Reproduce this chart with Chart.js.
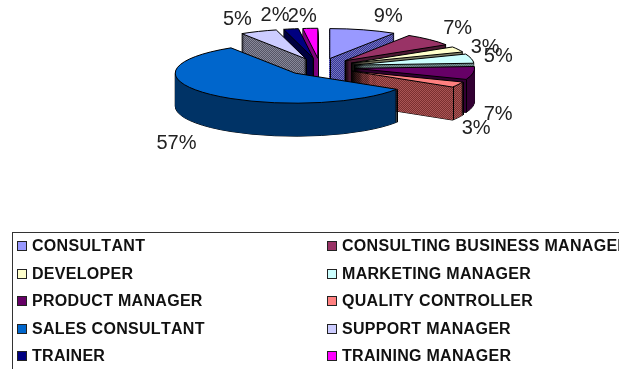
<!DOCTYPE html>
<html>
<head>
<meta charset="utf-8">
<script src="https://cdn.jsdelivr.net/npm/chart.js@4"></script>
<style>
  html, body { margin: 0; padding: 0; background: #fff; }
  #page { position: relative; width: 619px; height: 369px; overflow: hidden; }
  #page canvas { position: absolute; left: 0; top: 0; }
  #legend {
    position: absolute; left: 12px; top: 232px; width: 720px; height: 180px;
    border: 1px solid #333; box-sizing: border-box;
    font: bold 16px "Liberation Sans", Arial, sans-serif; color: #111;
    font-kerning: none;
  }
  .item { position: absolute; white-space: nowrap; line-height: 18px; }
  .item i {
    position: absolute; left: 0; top: 4px; width: 8px; height: 8px;
    border: 1px solid #222;
  }
  .item span { position: absolute; left: 15px; top: 0; letter-spacing: 0.3px; }
</style>
</head>
<body>
<div id="page">
  <canvas id="chart" width="619" height="369"></canvas>
  <div id="legend"></div>
</div>
<script>
const categories = ['CONSULTANT', 'CONSULTING BUSINESS MANAGER', 'DEVELOPER', 'MARKETING MANAGER',
  'PRODUCT MANAGER', 'QUALITY CONTROLLER', 'SALES CONSULTANT', 'SUPPORT MANAGER', 'TRAINER', 'TRAINING MANAGER'];
const shares = [9, 7, 3, 5, 7, 3, 57, 5, 2, 2];
const topColors = ['#9999FF', '#993366', '#FFFFCC', '#CCFFFF', '#660066', '#FF8080', '#0066CC', '#CCCCFF', '#000080', '#FF00FF'];
// two tones of the dithered side walls, same colour twice means flat
const sideA = ['#333399', '#4C1933', '#7F7F66', '#556F6F', '#330033', '#7A3030', '#003366', '#555566', '#000040', '#7F007F'];
const sideB = ['#7777BB', '#4C1933', '#7F7F66', '#778F8F', '#330033', '#AA5555', '#003366', '#888899', '#000040', '#7F007F'];

// look of the fake 3D pie
const CENTER_X = 320;
const CENTER_Y = 67;
const RADIUS = 120;
const SQUASH = 0.25;
const EXPLODE = 35;
const DEPTH = 33;

// where the percent labels sit, relative to the slice's rim point
const labelNudge = [[25, -13], [28, -11], [27, -2], [27, -2], [25, 41], [18, 44], [-34, 49], [-21, -12], [-16, -13], [-8, -12]];

function makeDither(ctx, a, b) {
  const c = document.createElement('canvas');
  c.width = c.height = 2;
  const g = c.getContext('2d');
  g.fillStyle = a;
  g.fillRect(0, 0, 2, 2);
  g.fillStyle = b;
  g.fillRect(0, 0, 1, 1);
  g.fillRect(1, 1, 1, 1);
  return ctx.createPattern(c, 'repeat');
}

// apex of a slice in page pixels
function apex(arc) {
  const mid = (arc.startAngle + arc.endAngle) / 2;
  return { x: CENTER_X + Math.cos(mid) * EXPLODE, y: CENTER_Y + Math.sin(mid) * EXPLODE * SQUASH };
}

const pie3d = {
  id: 'pie3d',
  beforeDatasetDraw(chart) {
    const ctx = chart.ctx;
    const arcs = chart.getDatasetMeta(0).data;
    const order = arcs.map((_, i) => i).sort((a, b) => apex(arcs[a]).y - apex(arcs[b]).y);
    const patterns = sideA.map((a, i) => makeDither(ctx, a, sideB[i]));
    ctx.imageSmoothingEnabled = false;

    // strokes happen in page space so the outline stays 1px after squashing
    const rawStroke = ctx.stroke;
    ctx.stroke = function () {
      const m = ctx.getTransform();
      ctx.setTransform(1, 0, 0, 1, 0, 0);
      rawStroke.call(ctx);
      ctx.setTransform(m);
    };

    function drawArc(arc, down, overrides) {
      const p = apex(arc);
      const saved = arc.options;
      arc.options = Object.assign({}, saved, overrides);
      ctx.save();
      ctx.translate(p.x, p.y + down);
      ctx.scale(1, SQUASH);
      ctx.translate(-arc.x, -arc.y);
      // keep the dither locked to page pixels
      if (overrides.backgroundColor instanceof CanvasPattern) {
        overrides.backgroundColor.setTransform(ctx.getTransform().inverse());
      }
      arc.draw(ctx);
      ctx.restore();
      arc.options = saved;
    }

    order.forEach(i => {
      const arc = arcs[i];
      const p = apex(arc);
      const mid = (arc.startAngle + arc.endAngle) / 2;
      // black silhouette of the wall, then the wall itself, then the top
      for (let d = DEPTH; d > 0; d--) {
        drawArc(arc, d, { backgroundColor: 'rgba(0,0,0,0)', borderColor: '#000', borderWidth: 1 });
      }
      for (let d = DEPTH; d > 0; d--) {
        drawArc(arc, d, { backgroundColor: patterns[i], borderWidth: 0 });
      }
      ctx.save();
      ctx.strokeStyle = '#000';
      ctx.lineWidth = 1;
      ctx.beginPath();
      // wall corners only show on the front half of the rim
      [arc.startAngle, arc.endAngle].filter(a => Math.sin(a) > 0).forEach(a => {
        const x = Math.round(p.x + Math.cos(a) * RADIUS) + 0.5;
        const y = p.y + Math.sin(a) * RADIUS * SQUASH;
        ctx.moveTo(x, y);
        ctx.lineTo(x, y + DEPTH);
      });
      if (Math.sin(mid) < 0) {
        ctx.moveTo(Math.round(p.x) + 0.5, p.y);
        ctx.lineTo(Math.round(p.x) + 0.5, p.y + DEPTH);
      }
      ctx.stroke();
      ctx.restore();
      drawArc(arc, 0, { backgroundColor: topColors[i], borderColor: '#000', borderWidth: 1 });
    });

    ctx.stroke = rawStroke;

    // percent labels
    ctx.save();
    ctx.font = '20px "Liberation Sans", Arial, sans-serif';
    ctx.fillStyle = '#222';
    ctx.textAlign = 'center';
    ctx.textBaseline = 'middle';
    arcs.forEach((arc, i) => {
      const p = apex(arc);
      const mid = (arc.startAngle + arc.endAngle) / 2;
      const x = p.x + Math.cos(mid) * RADIUS + labelNudge[i][0];
      const y = p.y + Math.sin(mid) * RADIUS * SQUASH + labelNudge[i][1];
      ctx.fillText(shares[i] + '%', x, y);
    });
    ctx.restore();
    return false;
  },
};

new Chart(document.getElementById('chart'), {
  type: 'pie',
  data: {
    labels: categories,
    datasets: [{ data: shares, backgroundColor: topColors, borderWidth: 0 }],
  },
  options: {
    responsive: false,
    animation: false,
    events: [],
    radius: RADIUS,
    plugins: { legend: { display: false }, tooltip: { enabled: false } },
  },
  plugins: [pie3d],
});

// two column legend, filled row by row
const legendEl = document.getElementById('legend');
categories.forEach((name, i) => {
  const col = i % 2;
  const row = Math.floor(i / 2);
  const item = document.createElement('div');
  item.className = 'item';
  item.style.left = (col ? 314 : 4) + 'px';
  item.style.top = (4 + row * 27.5) + 'px';
  item.innerHTML = `<i style="background:${topColors[i]}"></i><span>${name}</span>`;
  legendEl.appendChild(item);
});
</script>
</body>
</html>
